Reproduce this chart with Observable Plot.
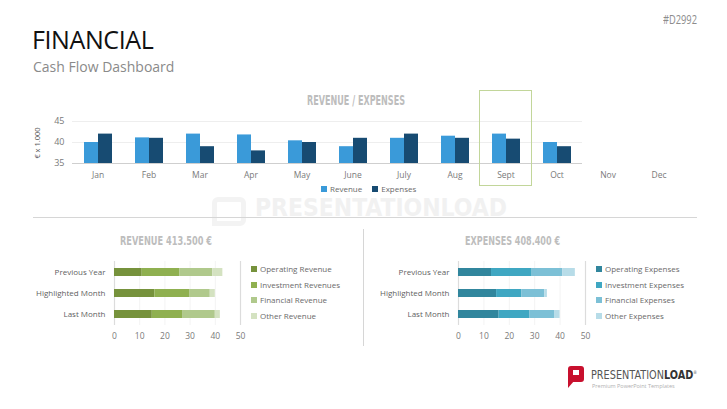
<!DOCTYPE html>
<html>
<head>
<meta charset="utf-8">
<script src="https://cdn.jsdelivr.net/npm/d3@7"></script>
<script src="https://cdn.jsdelivr.net/npm/@observablehq/plot@0.6"></script>
<style>
  html, body { margin: 0; padding: 0; background: #fff; }
  #page { position: relative; width: 727px; height: 409px; overflow: hidden; font-family: "Open Sans", sans-serif; }
  .abs { position: absolute; white-space: nowrap; }
  .cond { font-family: "Liberation Sans Narrow", "DejaVu Sans Condensed", sans-serif; font-weight: bold; transform-origin: 0 0; display: inline-block; }
  .leg { position: absolute; font-size: 8px; color: #6a6a6a; white-space: nowrap; line-height: 8px; }
  .sw { display: inline-block; width: 6px; height: 6px; margin-right: 3px; vertical-align: 0px; }
</style>
</head>
<body>
<div id="page"></div>
<script>
// ---------- data ----------
const months = ["Jan", "Feb", "Mar", "Apr", "May", "June", "July", "Aug", "Sept", "Oct", "Nov", "Dec"];
const revenue = [40, 41.1, 42, 41.8, 40.4, 39, 41, 41.5, 42, 40, null, null];
const expenses = [42, 41, 39, 38, 40, 41, 42, 41, 40.8, 39, null, null];
const topSeries = ["Revenue", "Expenses"];
const topColors = ["#3a9ad9", "#174b72"];
const yTicks = [35, 40, 45];
const highlightMonth = "Sept";

const periods = ["Previous Year", "Highlighted Month", "Last Month"];
const xTicks = [0, 10, 20, 30, 40, 50];

const revComponents = ["Operating Revenue", "Investment Revenues", "Financial Revenue", "Other Revenue"];
const revOperating = [11, 16, 15];
const revInvestment = [15, 14, 12];
const revFinancial = [13, 8, 13];
const revOther = [4, 2, 2];
const revColors = ["#76923c", "#8fb050", "#b0c98c", "#d4e2c1"];

const expComponents = ["Operating Expenses", "Investment Expenses", "Financial Expenses", "Other Expenses"];
const expOperating = [13, 15, 16];
const expInvestment = [16, 10, 12];
const expFinancial = [12, 9, 10];
const expOther = [5, 1, 2];
const expColors = ["#31869d", "#3fa7c2", "#7cc0d6", "#b7dce8"];

// ---------- helpers ----------
const page = document.getElementById("page");
function addText(txt, css, cls) {
  const d = document.createElement("div");
  d.className = "abs" + (cls ? " " + cls : "");
  d.textContent = txt;
  Object.assign(d.style, css);
  page.appendChild(d);
  return d;
}
function fitWidth(el, w) {
  const r = el.getBoundingClientRect().width;
  el.style.transformOrigin = "0 0";
  el.style.transform = `scaleX(${w / r})`;
}
function addBox(css) {
  const d = document.createElement("div");
  d.className = "abs";
  Object.assign(d.style, css);
  page.appendChild(d);
  return d;
}

// ---------- header ----------
const hd = addText("#D2992", {left: "663px", top: "11px", fontSize: "12px", color: "#8c8c8c", display: "inline-block"});
fitWidth(hd, 34);
addText("FINANCIAL", {left: "32px", top: "22px", fontSize: "25px", color: "#111", letterSpacing: "-0.4px"});
addText("Cash Flow Dashboard", {left: "33px", top: "57px", fontSize: "14px", color: "#8a8a8a"});

// watermark
const wm = addText("PRESENTATIONLOAD", {left: "255px", top: "199px", fontSize: "24px", lineHeight: "18px", color: "#f1f1f1"}, "cond");
fitWidth(wm, 252);
addBox({left: "212px", top: "197px", width: "24px", height: "19px", border: "5px solid #f3f3f3", borderRadius: "6px", borderBottomLeftRadius: "0"});

// dividers
addBox({left: "33px", top: "217px", width: "664px", height: "0", borderTop: "1.5px solid #d6d6d6"});
addBox({left: "363px", top: "229px", width: "0", height: "117px", borderLeft: "1.5px solid #d6d6d6"});

// ---------- top chart ----------
const topRows = [];
months.forEach((m, i) => {
  if (revenue[i] != null) topRows.push({month: m, series: "Revenue", value: revenue[i]});
  if (expenses[i] != null) topRows.push({month: m, series: "Expenses", value: expenses[i]});
});

const topChart = Plot.plot({
  width: 727, height: 75,
  marginLeft: 70, marginRight: 41, marginTop: 11, marginBottom: 22,
  style: {fontFamily: "Open Sans, sans-serif", fontSize: "8.5px", color: "#7a7a7a", background: "transparent", overflow: "visible"},
  fx: {domain: months, padding: 0, label: null},
  x: {domain: topSeries, paddingInner: 0, paddingOuter: 0.75, axis: null},
  y: {domain: [35, 45], label: null},
  color: {domain: topSeries, range: topColors},
  marks: [
    Plot.gridY([40, 45], {stroke: "#eeeeee", strokeOpacity: 1}),
    Plot.barY(topRows, {fx: "month", x: "series", y1: 35, y2: "value", fill: "series"}),
    Plot.ruleY([35], {stroke: "#cfcfcf", strokeWidth: 1.2}),
    Plot.axisY({ticks: yTicks, tickSize: 0, tickPadding: 8, label: null, fontSize: 9}),
    Plot.axisFx({anchor: "bottom", tickSize: 0, tickPadding: 8, label: null, fontSize: 8.5})
  ]
});
topChart.style.position = "absolute";
topChart.style.left = "0px";
topChart.style.top = "110px";
page.appendChild(topChart);

// highlight box around the highlighted month (from the fx scale)
const fxs = topChart.scale("fx");
const hx = fxs.apply(highlightMonth);
addBox({left: (hx - 1) + "px", top: "90px", width: fxs.bandwidth + "px", height: "94px", border: "1.5px solid #c2d69a"});

// y label
const yl = addText("€ x 1.000", {left: "33px", top: "143px", fontSize: "7.5px", lineHeight: "9px", color: "#555", display: "inline-block"});
const ylw = yl.getBoundingClientRect().width;
yl.style.transformOrigin = "0 0";
yl.style.transform = `translate(0, ${ylw / 2}px) rotate(-90deg)`;

// top title
const tt = addText("REVENUE / EXPENSES", {left: "307px", top: "92px", fontSize: "14px", color: "#bdbdbd"}, "cond");
fitWidth(tt, 98);

// top legend
const tl = document.createElement("div");
tl.className = "leg";
tl.style.left = "321px"; tl.style.top = "185px";
tl.innerHTML = topSeries.map((s, i) => `<span class="sw" style="background:${topColors[i]}"></span>${s}`).join('<span style="display:inline-block;width:10px"></span>');
page.appendChild(tl);

// ---------- bottom charts ----------
function stackedChart(comps, arrays, colors, opts) {
  const rows = [];
  periods.forEach((p, i) => comps.forEach((c, j) => rows.push({period: p, component: c, value: arrays[j][i]})));
  const ch = Plot.plot({
    width: opts.width, height: 95,
    marginLeft: opts.marginLeft, marginRight: opts.width - opts.marginLeft - opts.plotWidth, marginTop: 11, marginBottom: 20,
    style: {fontFamily: "Open Sans, sans-serif", fontSize: "8px", color: "#5f5f5f", background: "transparent", overflow: "visible"},
    x: {domain: [0, 50], label: null},
    y: {domain: periods, paddingInner: 0.62, paddingOuter: 0.31, label: null},
    color: {domain: comps, range: colors},
    marks: [
      Plot.ruleX([10, 20, 30, 40], {stroke: "#f3f3f3"}),
      Plot.ruleX([0, 50], {stroke: "#dcdcdc", strokeWidth: 1.2}),
      Plot.barX(rows, {x: "value", y: "period", fill: "component"}),
      Plot.axisX({ticks: xTicks, tickSize: 0, tickPadding: 7, label: null, fontSize: 8.5, color: "#7a7a7a"}),
      Plot.axisY({tickSize: 0, tickPadding: 9, label: null, fontSize: 8})
    ]
  });
  ch.style.position = "absolute";
  ch.style.left = opts.left + "px";
  ch.style.top = "250px";
  page.appendChild(ch);

  const lg = document.createElement("div");
  lg.className = "leg";
  lg.style.left = opts.legendLeft + "px"; lg.style.top = "261px";
  lg.style.lineHeight = "15.5px";
  lg.innerHTML = comps.map((c, i) => `<div><span class="sw" style="background:${colors[i]}"></span>${c}</div>`).join("");
  page.appendChild(lg);
}

stackedChart(revComponents, [revOperating, revInvestment, revFinancial, revOther], revColors,
  {left: 0, width: 250, marginLeft: 114, plotWidth: 126, legendLeft: 251});
stackedChart(expComponents, [expOperating, expInvestment, expFinancial, expOther], expColors,
  {left: 363, width: 235, marginLeft: 95, plotWidth: 127, legendLeft: 596});

const rt = addText("REVENUE 413.500 €", {left: "120px", top: "233px", fontSize: "13px", color: "#bdbdbd"}, "cond");
fitWidth(rt, 92);
const et = addText("EXPENSES 408.400 €", {left: "465px", top: "233px", fontSize: "13px", color: "#bdbdbd"}, "cond");
fitWidth(et, 95);

// ---------- logo ----------
addBox({left: "568px", top: "366px", width: "16px", height: "16px", background: "#c8102e", borderRadius: "3px", borderBottomLeftRadius: "0"});
addBox({left: "573px", top: "370px", width: "6px", height: "5px", background: "#fff"});
addBox({left: "568px", top: "381px", width: "0", height: "0", borderLeft: "6px solid #c8102e", borderBottom: "7px solid transparent"});
const lt = document.createElement("div");
lt.className = "abs";
lt.style.left = "591px"; lt.style.top = "366px"; lt.style.lineHeight = "12px";
lt.innerHTML = `<span class="cond" style="font-weight:normal;font-size:13px;line-height:12px;color:#555">PRESENTATION<b style="color:#333">LOAD</b><span style="font-size:5px;vertical-align:5px">®</span></span>`;
page.appendChild(lt);
fitWidth(lt.firstChild, 106);
addText("Premium PowerPoint Templates", {left: "592px", top: "383px", fontSize: "5.5px", lineHeight: "6px", color: "#b0b0b0"});
</script>
</body>
</html>
